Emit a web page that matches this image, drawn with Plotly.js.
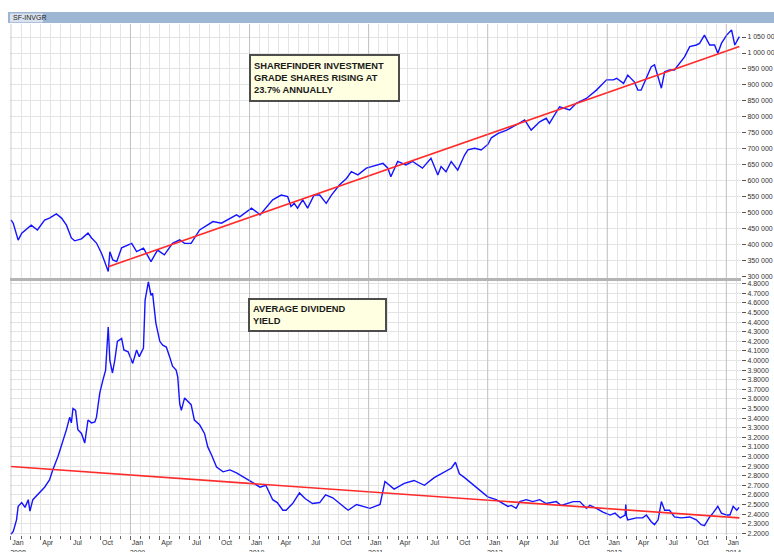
<!DOCTYPE html>
<html>
<head>
<meta charset="utf-8">
<script src="https://cdn.plot.ly/plotly-3.0.1.min.js"></script>
<style>html,body{margin:0;padding:0;background:#fff;}#chart{width:774px;height:552px;}</style>
</head>
<body>
<div id="chart"></div>
<script>
// ---- Data: SF-INVGR index (top panel) ----
const indexDates = [
"2008-01-01","2008-01-08","2008-01-23","2008-02-03","2008-03-03","2008-03-22","2008-04-13","2008-04-28","2008-05-19","2008-06-04","2008-06-19","2008-07-04","2008-07-14","2008-08-04","2008-08-24","2008-09-04","2008-09-19","2008-10-04","2008-10-14","2008-10-25","2008-10-30","2008-11-08","2008-11-20","2008-12-05",
"2009-01-05","2009-01-20","2009-02-10","2009-03-05","2009-03-25","2009-04-15","2009-05-10","2009-06-01","2009-06-16","2009-07-06","2009-08-01","2009-09-11","2009-10-07","2009-11-22","2009-12-02",
"2010-01-02","2010-01-07","2010-01-28","2010-02-02","2010-03-13","2010-04-08","2010-04-28","2010-05-08","2010-05-18","2010-05-28","2010-06-13","2010-06-28","2010-07-18","2010-08-04","2010-08-24","2010-09-09","2010-10-04","2010-10-25","2010-11-09","2010-11-29","2010-12-25",
"2011-01-25","2011-02-14","2011-03-01","2011-03-10","2011-03-31","2011-04-25","2011-05-16","2011-06-15","2011-07-11","2011-08-01","2011-08-11","2011-08-26","2011-09-11","2011-10-01","2011-10-22","2011-11-01","2011-11-22","2011-12-12",
"2012-01-02","2012-01-12","2012-02-02","2012-02-28","2012-03-28","2012-04-23","2012-05-13","2012-06-08","2012-06-28","2012-07-08","2012-08-08","2012-09-08","2012-09-28","2012-10-29","2012-11-29","2012-12-30",
"2013-01-20","2013-01-30","2013-02-20","2013-03-05","2013-03-25","2013-04-05","2013-04-15","2013-05-01","2013-05-16","2013-05-26","2013-06-06","2013-06-16","2013-06-26","2013-07-11","2013-07-26","2013-08-11","2013-08-26","2013-09-11","2013-10-01","2013-10-11","2013-10-26","2013-11-11","2013-11-26","2013-12-06","2013-12-17",
"2014-01-02","2014-01-17","2014-01-27","2014-02-10"];
const indexValues = [
478000,468000,415000,437000,462000,447000,478000,484000,497000,484000,462000,422000,413000,419000,437000,422000,406000,375000,348000,317000,379000,353000,348000,391000,
405000,379000,390000,348000,384000,369000,405000,416000,405000,405000,447000,473000,468000,494000,488000,
512000,515000,499000,494000,541000,556000,551000,520000,530000,515000,541000,515000,556000,556000,530000,556000,588000,608000,629000,619000,640000,
650000,655000,640000,613000,661000,650000,661000,640000,671000,619000,645000,629000,661000,634000,681000,697000,702000,697000,
715000,735000,749000,759000,775000,791000,759000,785000,796000,780000,832000,822000,843000,858000,884000,916000,
916000,921000,905000,931000,910000,884000,884000,921000,957000,963000,921000,890000,941000,947000,947000,968000,988000,1020000,1025000,1030000,1056000,1025000,1025000,999000,1030000,
1056000,1072000,1025000,1051000];
const indexTrendDates = ["2008-10-25","2014-02-10"];
const indexTrendValues = [332000, 1020000];

// ---- Data: average dividend yield (bottom panel) ----
const yieldDates = [
"2008-01-01","2008-01-08","2008-01-18","2008-01-23","2008-02-03","2008-02-13","2008-02-23","2008-02-28","2008-03-08","2008-03-29","2008-04-13","2008-04-28","2008-05-08","2008-05-24","2008-06-09","2008-06-19","2008-06-29","2008-07-04","2008-07-09","2008-07-17","2008-07-24","2008-08-04","2008-08-14","2008-08-24","2008-09-04","2008-09-14","2008-09-19","2008-09-29","2008-10-09","2008-10-17","2008-10-25","2008-10-30","2008-11-07","2008-11-14","2008-11-22","2008-12-05","2008-12-12","2008-12-25",
"2009-01-08","2009-01-20","2009-01-28","2009-02-10","2009-02-15","2009-02-25","2009-03-05","2009-03-10","2009-03-20","2009-04-01","2009-04-10","2009-04-21","2009-05-01","2009-05-10","2009-05-21","2009-05-26","2009-06-01","2009-06-06","2009-06-16","2009-06-26","2009-07-06","2009-07-16","2009-08-01","2009-08-16","2009-08-26","2009-09-06","2009-09-22","2009-10-12","2009-11-02","2009-11-22","2009-12-13","2009-12-28",
"2010-01-15","2010-02-02","2010-02-20","2010-03-13","2010-03-27","2010-04-13","2010-04-23","2010-05-13","2010-06-03","2010-06-21","2010-07-13","2010-08-04","2010-08-22","2010-09-13","2010-10-04","2010-10-30","2010-11-25","2010-12-14",
"2011-01-05","2011-02-05","2011-02-20","2011-03-20","2011-04-20","2011-05-20","2011-06-21","2011-07-21","2011-08-21","2011-09-12","2011-09-24","2011-10-06","2011-10-22","2011-11-12","2011-12-06",
"2012-01-01","2012-01-27","2012-02-16","2012-03-03","2012-03-13","2012-03-28","2012-04-08","2012-04-28","2012-05-18","2012-06-08","2012-06-28","2012-07-29","2012-08-13","2012-09-19","2012-10-09","2012-10-29","2012-11-09","2012-11-29","2012-12-19",
"2013-01-10","2013-01-25","2013-02-10","2013-02-25","2013-02-27","2013-03-01","2013-03-05","2013-03-31","2013-04-20","2013-05-01","2013-05-16","2013-05-26","2013-06-06","2013-06-16","2013-06-26","2013-07-11","2013-07-26","2013-08-16","2013-09-11","2013-10-01","2013-10-16","2013-10-26","2013-11-11","2013-11-21","2013-12-06","2013-12-17",
"2014-01-02","2014-01-12","2014-01-22","2014-02-02","2014-02-09"];
const yieldValues = [
2.19,2.22,2.34,2.48,2.52,2.47,2.55,2.43,2.55,2.62,2.68,2.755,2.86,3.00,3.17,3.28,3.41,3.35,3.50,3.48,3.28,3.24,3.14,3.38,3.35,3.36,3.41,3.66,3.80,3.90,4.35,4.00,3.87,4.00,4.20,4.23,4.11,4.09,
3.97,4.11,4.04,4.13,4.63,4.82,4.68,4.70,4.39,4.20,4.16,4.14,4.04,3.94,3.90,3.83,3.55,3.48,3.61,3.57,3.54,3.38,3.33,3.24,3.10,3.02,2.89,2.84,2.86,2.83,2.79,2.755,
2.72,2.68,2.70,2.55,2.52,2.44,2.44,2.51,2.62,2.56,2.51,2.52,2.60,2.57,2.51,2.44,2.50,2.48,
2.46,2.50,2.74,2.66,2.72,2.75,2.70,2.78,2.84,2.88,2.94,2.82,2.78,2.72,2.65,
2.58,2.55,2.51,2.48,2.49,2.46,2.53,2.55,2.53,2.55,2.51,2.53,2.49,2.53,2.53,2.46,2.49,2.46,2.42,
2.39,2.41,2.36,2.39,2.50,2.38,2.34,2.36,2.36,2.39,2.32,2.29,2.34,2.53,2.44,2.44,2.37,2.36,2.37,2.34,2.29,2.28,2.37,2.41,2.48,2.41,
2.39,2.39,2.48,2.44,2.47];
const yieldTrendDates = ["2008-01-01","2014-02-10"];
const yieldTrendValues = [2.895, 2.36];

// ---- Text ----
const seriesLabel = "SF-INVGR";
const topNote = "SHAREFINDER INVESTMENT<br>GRADE SHARES RISING AT<br>23.7% ANNUALLY";
const bottomNote = "AVERAGE DIVIDEND<br>YIELD";
const gridYears = [2008, 2009, 2010, 2011, 2012, 2013, 2014];

const BLUE = "#1414ff", RED = "#ff2a2a";
const traces = [
  {x: indexDates, y: indexValues, xaxis: "x2", yaxis: "y2", type: "scatter", mode: "lines",
   line: {color: BLUE, width: 1.4}, hoverinfo: "x+y"},
  {x: indexTrendDates, y: indexTrendValues, xaxis: "x2", yaxis: "y2", type: "scatter", mode: "lines",
   line: {color: RED, width: 1.6}, hoverinfo: "skip"},
  {x: yieldDates, y: yieldValues, xaxis: "x", yaxis: "y", type: "scatter", mode: "lines",
   line: {color: BLUE, width: 1.4}, hoverinfo: "x+y"},
  {x: yieldTrendDates, y: yieldTrendValues, xaxis: "x", yaxis: "y", type: "scatter", mode: "lines",
   line: {color: RED, width: 1.6}, hoverinfo: "skip"}
];

const tickFont = {family: "Liberation Sans, Arial, sans-serif", size: 7, color: "#333"};
const GRID = "#e4e4e4";
const xRange = ["2007-12-29", "2014-02-15"];
const xCommon = {
  type: "date", range: xRange, dtick: "M3", tick0: "2008-01-01",
  showgrid: true, gridcolor: GRID, gridwidth: 1, zeroline: false, showline: false,
  minor: {dtick: "M1", showgrid: true, gridcolor: GRID, gridwidth: 1}
};

const shapes = [];
// slightly darker yearly grid lines spanning both panels
gridYears.forEach(function (yr) {
  const d = yr + "-01-01";
  shapes.push({type: "line", xref: "x", yref: "paper", x0: d, x1: d, y0: 0, y1: 1,
    line: {color: "rgba(160,160,160,0.5)", width: 1}, layer: "above"});
});
// panel separator
shapes.push({type: "rect", xref: "paper", yref: "paper", x0: 0, x1: 1, y0: 0.497, y1: 0.503,
  fillcolor: "#b4b4b4", line: {width: 0}, layer: "above"});
// header bar
shapes.push({type: "rect", xref: "paper", yref: "paper", x0: -0.0028, x1: 1.046, y0: 1.002, y1: 1.0235,
  fillcolor: "#9db6d4", line: {width: 0}, layer: "above"});
shapes.push({type: "rect", xref: "paper", yref: "paper", x0: 0, x1: 0.045, y0: 1.0035, y1: 1.0205,
  fillcolor: "#d9e2ee", line: {width: 0}, layer: "above"});

const noteFont = {family: "Liberation Sans, Arial, sans-serif", size: 9.3, color: "#1a1a1a"};
const annotations = [
  {text: seriesLabel, xref: "paper", yref: "paper", x: 0.002, y: 1.012, xanchor: "left", yanchor: "middle",
   showarrow: false, font: {family: "Liberation Sans, Arial, sans-serif", size: 7, color: "#222"}},
  {text: "<b>" + topNote + "</b>", xref: "paper", yref: "paper", x: 0.3269, y: 0.9413,
   xanchor: "left", yanchor: "top", showarrow: false, align: "left", valign: "middle",
   width: 141, height: 38, bgcolor: "#ffffe1", bordercolor: "#4d4d4d", borderwidth: 2, borderpad: 3,
   font: noteFont},
  {text: "<b>" + bottomNote + "</b>", xref: "paper", yref: "paper", x: 0.3256, y: 0.4638,
   xanchor: "left", yanchor: "top", showarrow: false, align: "left", valign: "middle",
   width: 129, height: 24, bgcolor: "#ffffe1", bordercolor: "#4d4d4d", borderwidth: 2, borderpad: 3,
   font: noteFont}
];

const layout = {
  width: 774, height: 552,
  margin: {l: 10, r: 33, t: 24, b: 17, pad: 0},
  paper_bgcolor: "#ffffff", plot_bgcolor: "#ffffff",
  showlegend: false,
  separators: ". ",
  xaxis: Object.assign({}, xCommon, {
    anchor: "y", domain: [0, 1],
    tickformat: "%b\n%Y", ticks: "outside", ticklen: 4, tickcolor: "#666", tickwidth: 1,
    tickfont: tickFont, ticklabelshift: 7, ticklabelstandoff: -3,
    minor: {dtick: "M1", showgrid: true, gridcolor: GRID, gridwidth: 1, ticks: "outside", ticklen: 3, tickcolor: "#666"}
  }),
  xaxis2: Object.assign({}, xCommon, {
    anchor: "y2", matches: "x", showticklabels: false, ticks: ""
  }),
  yaxis: {
    domain: [0, 0.497], range: [2.182, 4.828], side: "right", anchor: "x",
    dtick: 0.1, tick0: 2.2, tickformat: ".4f",
    ticks: "outside", ticklen: 4, tickcolor: "#555", tickfont: tickFont,
    showgrid: true, gridcolor: GRID, zeroline: false, showline: false
  },
  yaxis2: {
    domain: [0.503, 1], range: [296875, 1090625], side: "right", anchor: "x2",
    dtick: 50000, tick0: 300000, tickformat: ",d",
    ticks: "outside", ticklen: 4, tickcolor: "#555", tickfont: tickFont,
    showgrid: true, gridcolor: GRID, zeroline: false, showline: false
  },
  shapes: shapes,
  annotations: annotations
};

Plotly.newPlot("chart", traces, layout, {displayModeBar: false, staticPlot: true});
</script>
</body>
</html>
